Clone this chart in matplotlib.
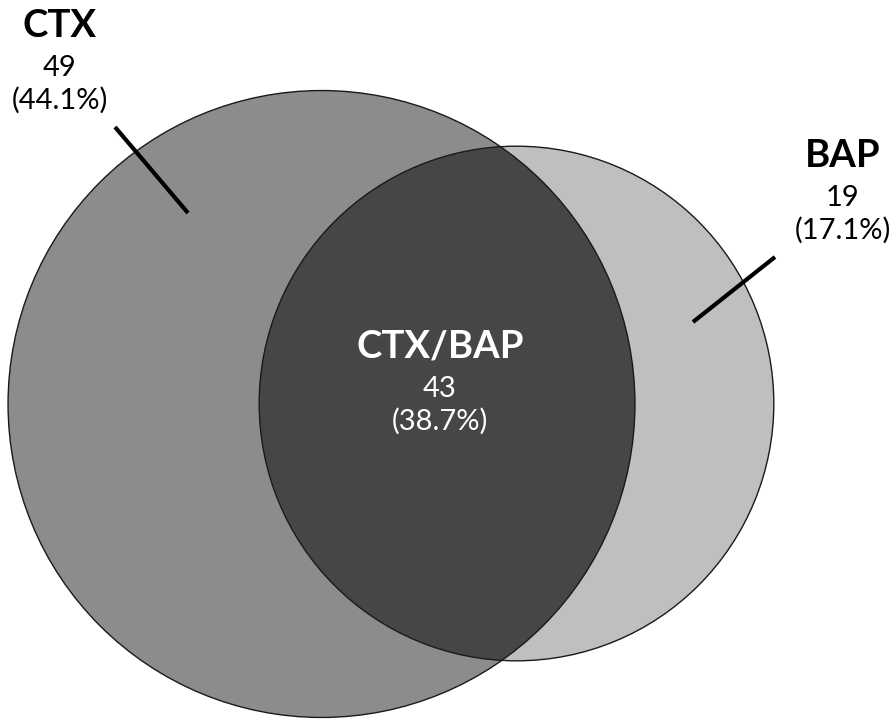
import numpy as np
import matplotlib
matplotlib.use("Agg")
import matplotlib.pyplot as plt
from matplotlib.patches import Circle

# Data
set_labels = ["CTX", "BAP", "CTX/BAP"]
counts = [49, 19, 43]
percents = [44.1, 17.1, 38.7]

total_ctx = counts[0] + counts[2]
total_bap = counts[1] + counts[2]

plt.rcParams['font.family'] = ['Lato', 'DejaVu Sans']

W, H = 895, 719
fig = plt.figure(figsize=(W / 100, H / 100), dpi=100)
ax = fig.add_axes([0, 0, 1, 1])
ax.set_xlim(0, W)
ax.set_ylim(H, 0)
ax.set_aspect('equal')
ax.axis('off')

k = 32.68
r_ctx = k * np.sqrt(total_ctx)
r_bap = k * np.sqrt(total_bap)
c_ctx = (321.5, 404)
c_bap = (516.5, 403.5)

ctx = Circle(c_ctx, r_ctx, facecolor='#8c8c8c', edgecolor='none', zorder=1)
bap = Circle(c_bap, r_bap, facecolor='#bfbfbf', edgecolor='none', zorder=1)
ax.add_patch(bap)
ax.add_patch(ctx)
inter = Circle(c_bap, r_bap, facecolor='#464646', edgecolor='none', zorder=2)
ax.add_patch(inter)
clipc = Circle(c_ctx, r_ctx, transform=ax.transData)
inter.set_clip_path(clipc)
for c, r in [(c_ctx, r_ctx), (c_bap, r_bap)]:
    ax.add_patch(Circle(c, r, facecolor='none', edgecolor='#1a1a1a', lw=1.0, zorder=3))

# leader lines
ax.plot([115, 188], [127, 213], color='black', lw=3.0, solid_capstyle='butt', zorder=4)
ax.plot([775, 693], [257, 322], color='black', lw=3.0, solid_capstyle='butt', zorder=4)

def label(x, y, name, n, p, color):
    ax.text(x, y, name, ha='center', va='center', fontsize=27.5, fontweight='bold', color=color, zorder=5)
    ax.text(x, y + 42, f"{n}", ha='center', va='center', fontsize=21, color=color, zorder=5)
    ax.text(x, y + 74, f"({p}%)", ha='center', va='center', fontsize=21, color=color, zorder=5)

label(60, 26, set_labels[0], counts[0], percents[0], 'black')
label(843, 156, set_labels[1], counts[1], percents[1], 'black')
label(440, 347, set_labels[2], counts[2], percents[2], 'white')

fig.savefig('out.png', dpi=100)
